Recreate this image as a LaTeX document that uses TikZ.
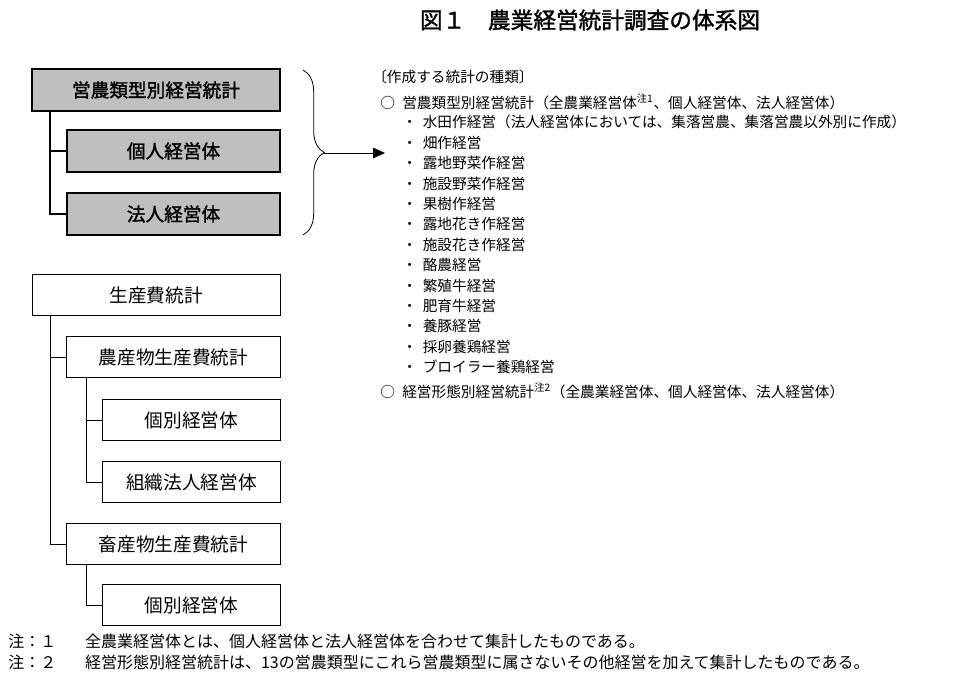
\documentclass[tikz,border=0pt]{standalone}
\usepackage{fontspec}
\setmainfont{Noto Sans CJK JP}
\newfontfamily\jpbold{Noto Sans CJK JP}[FakeBold=1.5]
\usetikzlibrary{arrows.meta,decorations.pathreplacing}
\tikzset{
  mainbox/.style={draw, line width=1.6pt, fill=black!25, minimum height=31pt, font=\jpbold\fontsize{14}{16}\selectfont, inner sep=0pt},
  subbox/.style={draw, line width=0.6pt, fill=white, minimum height=31pt, font=\fontsize{14}{16}\selectfont, inner sep=0pt},
  treeline/.style={line width=2pt},
  thinline/.style={line width=0.6pt},
  listtext/.style={anchor=west, inner sep=0pt, font=\fontsize{11}{13}\selectfont}
}
\begin{document}
\begin{tikzpicture}[x=0.75pt,y=-0.75pt]
\useasboundingbox (0,0) rectangle (960,678);
\node[font=\jpbold\fontsize{17}{20}\selectfont] (title) at (590,20) {図１\quad 農業経営統計調査の体系図};
% upper part
\node[mainbox, minimum width=186pt] (eino) at (156,90) {営農類型別経営統計};
\node[mainbox, minimum width=160pt] (kojin) at (173.5,151) {個人経営体};
\node[mainbox, minimum width=160pt] (hojin) at (173.5,214) {法人経営体};
\draw[treeline] (eino.south -| 50,0) |- (kojin.west);
\draw[treeline] (eino.south -| 50,0) |- (hojin.west);
\draw[thinline, decorate, decoration={brace, amplitude=16pt}] (303,70) -- (303,235);
\coordinate (btip) at (324,153);
\coordinate (atip) at (385,153);
\draw[thinline, -{Triangle[length=9pt,width=8pt]}] (btip) -- (atip);
% lower part
\node[subbox, minimum width=186pt] (seisan) at (156,295) {生産費統計};
\node[subbox, minimum width=160pt] (nosan) at (173.5,357) {農産物生産費統計};
\node[subbox, minimum width=133pt] (kobetsu1) at (191.5,420) {個別経営体};
\node[subbox, minimum width=133pt] (soshiki) at (191.5,482) {組織法人経営体};
\node[subbox, minimum width=160pt] (chikusan) at (173.5,544) {畜産物生産費統計};
\node[subbox, minimum width=133pt] (kobetsu2) at (191.5,605) {個別経営体};
\draw[thinline] (seisan.south -| 50,0) |- (nosan.west);
\draw[thinline] (seisan.south -| 50,0) |- (chikusan.west);
\draw[thinline] (nosan.south -| 86,0) |- (kobetsu1.west);
\draw[thinline] (nosan.south -| 86,0) |- (soshiki.west);
\draw[thinline] (chikusan.south -| 86,0) |- (kobetsu2.west);
% list
\node[listtext] (head) at (372,77) {〔作成する統計の種類〕};
\node[listtext] (c1) at (380,102) {○\hspace{0.5em}営農類型別経営統計（全農業経営体\textsuperscript{注1}、個人経営体、法人経営体）};
\foreach \t [count=\i] in {水田作経営（法人経営体においては、集落営農、集落営農以外別に作成）,畑作経営,露地野菜作経営,施設野菜作経営,果樹作経営,露地花き作経営,施設花き作経営,酪農経営,繁殖牛経営,肥育牛経営,養豚経営,採卵養鶏経営,ブロイラー養鶏経営}
  \node[listtext] (item\i) at (402,102+20.4*\i) {・\hspace{0.4em}\t};
\node[listtext] (c2) at (380,391) {○\hspace{0.5em}経営形態別経営統計\textsuperscript{注2}（全農業経営体、個人経営体、法人経営体）};
% notes
\node[listtext, font=\fontsize{12}{14}\selectfont] (note1) at (8,641) {注：１\hspace{1.8em}全農業経営体とは、個人経営体と法人経営体を合わせて集計したものである。};
\node[listtext, font=\fontsize{12}{14}\selectfont] (note2) at (8,662) {注：２\hspace{1.8em}経営形態別経営統計は、13の営農類型にこれら営農類型に属さないその他経営を加えて集計したものである。};
\end{tikzpicture}
\end{document}
